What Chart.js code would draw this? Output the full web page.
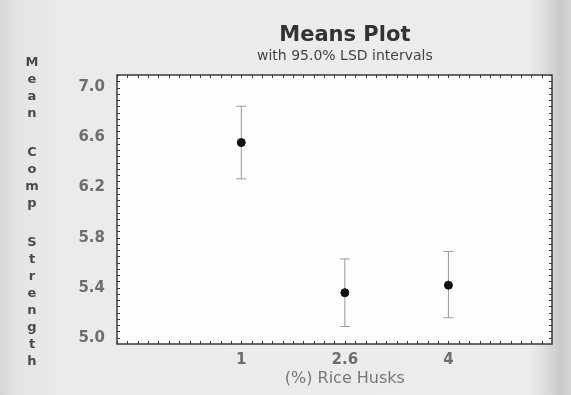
<!DOCTYPE html>
<html lang="en">
<head>
<meta charset="UTF-8">
<title>Means Plot</title>
<script src="https://cdn.jsdelivr.net/npm/chart.js"></script>
<style>
    * {
        margin: 0;
        padding: 0;
        box-sizing: border-box;
    }

    body {
        width: 571px;
        height: 395px;
        overflow: hidden;
        background: #e8e8e8;
    }

    .paper {
        position: relative;
        width: 571px;
        height: 395px;
        background: linear-gradient(to right, #d4d4d4 0px, #e3e3e3 14px, #eaeaea 60px, #ececec 530px, #dcdcdc 545px, #c9c9c9 560px, #d4d4d4 571px);
    }
</style>
</head>
<body>
<div class="paper">
    <canvas id="meansChart"></canvas>
</div>

<script>
    const levels = ['1', '2.6', '4'];
    const means = [6.56, 5.36, 5.42];
    const lowerLimits = [6.27, 5.09, 5.16];
    const upperLimits = [6.85, 5.63, 5.69];
    const yTickValues = [5.0, 5.4, 5.8, 6.2, 6.6, 7.0];

    const chartTitle = 'Means Plot';
    const chartSubtitle = 'with 95.0% LSD intervals';
    const xTitle = '(%) Rice Husks';
    const yTitle = 'Mean Comp Strength';

    const family = "'DejaVu Sans', sans-serif";

    // interval whiskers: low -> high, then a gap before the next level
    const intervalPoints = [];
    levels.forEach((_, i) => {
        intervalPoints.push({ x: i, y: lowerLimits[i] }, { x: i, y: upperLimits[i] }, { x: i, y: null });
    });

    const paperPlugin = {
        id: 'paper',
        beforeDraw(chart) {
            const { ctx, chartArea: a } = chart;
            ctx.save();
            ctx.fillStyle = '#fdfdfd';
            ctx.fillRect(a.left, a.top, a.right - a.left, a.bottom - a.top);
            ctx.restore();
        },
        afterDraw(chart) {
            const { ctx, chartArea: a, scales } = chart;
            ctx.save();

            // frame with small inward ticks on every side
            ctx.strokeStyle = '#3a3a3a';
            ctx.lineWidth = 1.5;
            ctx.strokeRect(a.left, a.top, a.right - a.left, a.bottom - a.top);
            ctx.lineWidth = 1;
            ctx.beginPath();
            for (let v = 5.0; v <= 7.1; v += 0.05) {
                const y = Math.round(scales.y.getPixelForValue(v)) + 0.5;
                ctx.moveTo(a.left, y); ctx.lineTo(a.left + 3, y);
                ctx.moveTo(a.right, y); ctx.lineTo(a.right - 3, y);
            }
            for (let v = -1.2; v <= 3.0; v += 0.1) {
                const x = Math.round(scales.x.getPixelForValue(v)) + 0.5;
                ctx.moveTo(x, a.bottom); ctx.lineTo(x, a.bottom - 3);
                ctx.moveTo(x, a.top); ctx.lineTo(x, a.top + 3);
            }
            ctx.stroke();

            // titles centred over the middle level
            const cx = scales.x.getPixelForValue(1);
            ctx.textAlign = 'center';
            ctx.textBaseline = 'middle';
            ctx.fillStyle = '#333';
            ctx.font = 'bold 21px ' + family;
            ctx.fillText(chartTitle, cx, 36);
            ctx.fillStyle = '#444';
            ctx.font = '14px ' + family;
            ctx.fillText(chartSubtitle, cx, 56);
            ctx.fillStyle = '#777';
            ctx.font = '16px ' + family;
            ctx.fillText(xTitle, cx, 379);

            // stacked y title
            ctx.fillStyle = '#4a4a4a';
            ctx.font = 'bold 13px ' + family;
            let y = 63;
            for (const ch of yTitle) {
                if (ch === ' ') { y += 22; continue; }
                ctx.fillText(ch, 32, y);
                y += 17;
            }
            ctx.restore();
        }
    };

    new Chart(document.getElementById('meansChart'), {
        type: 'scatter',
        data: {
            datasets: [{
                data: means.map((m, i) => ({ x: i, y: m })),
                pointStyle: 'circle',
                pointRadius: 4,
                backgroundColor: '#111',
                borderColor: '#111'
            }, {
                data: intervalPoints,
                showLine: true,
                spanGaps: false,
                borderColor: '#999',
                borderWidth: 1,
                pointStyle: 'line',
                pointRadius: 5,
                pointBorderColor: '#999',
                pointBorderWidth: 1
            }]
        },
        options: {
            responsive: true,
            maintainAspectRatio: false,
            animation: false,
            layout: { padding: { top: 75, right: 19, bottom: 0, left: 0 } },
            plugins: {
                legend: { display: false },
                tooltip: { enabled: false }
            },
            scales: {
                x: {
                    type: 'linear',
                    min: -1.2,
                    max: 3.0,
                    afterBuildTicks: s => { s.ticks = levels.map((_, i) => ({ value: i })); },
                    afterFit: s => { s.height = 51; },
                    grid: { display: false, drawTicks: false },
                    border: { display: false },
                    ticks: {
                        callback: v => levels[v] ?? '',
                        color: '#6e6e6e',
                        font: { family, size: 15, weight: 'bold' },
                        padding: 7,
                        autoSkip: false,
                        maxRotation: 0
                    }
                },
                y: {
                    min: 4.95,
                    max: 7.1,
                    afterBuildTicks: s => { s.ticks = yTickValues.map(v => ({ value: v })); },
                    afterFit: s => { s.width = 117; },
                    grid: { display: false, drawTicks: false },
                    border: { display: false },
                    ticks: {
                        callback: v => v.toFixed(1),
                        color: '#6e6e6e',
                        font: { family, size: 15, weight: 'bold' },
                        padding: 12
                    }
                }
            }
        },
        plugins: [paperPlugin]
    });
</script>
</body>
</html>
